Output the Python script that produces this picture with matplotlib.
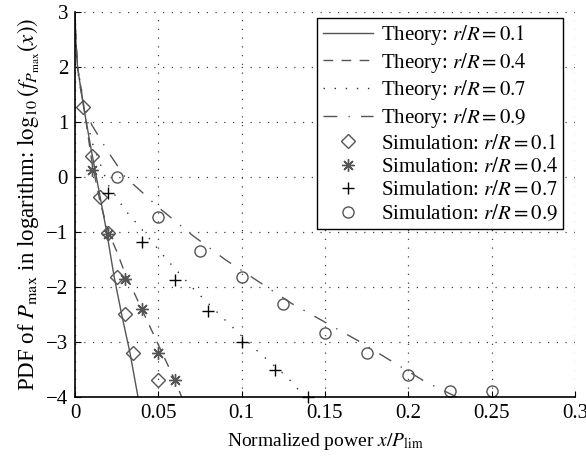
import numpy as np
import matplotlib.pyplot as plt

plt.rcParams["font.family"] = ["Liberation Serif", "DejaVu Serif"]
plt.rcParams["mathtext.fontset"] = "stix"

# theory curves
th_x_01 = [0, 0.0005, 0.0015, 0.005, 0.01, 0.015, 0.019, 0.0234, 0.028, 0.033, 0.0378]
th_y_01 = [3.0, 2.5, 2.0, 1.3, 0.45, -0.35, -1.0, -1.8, -2.5, -3.2, -4.0]

th_x_04 = [0, 0.0005, 0.0015, 0.005, 0.01, 0.015, 0.02, 0.025, 0.03, 0.04, 0.05, 0.06, 0.064]
th_y_04 = [3.0, 2.5, 2.0, 1.35, 0.3, -0.45, -1.0, -1.35, -1.75, -2.4, -3.05, -3.7, -4.0]

th_x_07 = [0, 0.0005, 0.0015, 0.005, 0.01, 0.02, 0.03, 0.04, 0.055, 0.07, 0.09, 0.11, 0.127, 0.138]
th_y_07 = [3.0, 2.5, 2.0, 1.4, 0.65, -0.15, -0.6, -0.95, -1.5, -2.0, -2.6, -3.18, -3.63, -4.0]

th_x_09 = [0, 0.0005, 0.002, 0.005, 0.01, 0.02, 0.03, 0.04, 0.05, 0.07, 0.09, 0.11, 0.13, 0.15, 0.17, 0.19, 0.21, 0.229]
th_y_09 = [3.0, 2.5, 1.8, 1.35, 0.95, 0.45, 0.0, -0.27, -0.55, -1.05, -1.5, -1.9, -2.3, -2.64, -2.98, -3.35, -3.72, -4.0]

# simulation points
sim_x_01 = [0.005, 0.01, 0.015, 0.02, 0.025, 0.03, 0.035, 0.05]
sim_y_01 = [1.27, 0.38, -0.37, -1.02, -1.82, -2.5, -3.2, -3.69]

sim_x_04 = [0.01, 0.02, 0.03, 0.04, 0.05, 0.06]
sim_y_04 = [0.13, -1.03, -1.86, -2.41, -3.2, -3.69]

sim_x_07 = [0.02, 0.04, 0.06, 0.08, 0.1, 0.12, 0.14]
sim_y_07 = [-0.29, -1.18, -1.87, -2.43, -3.01, -3.51, -4.0]

sim_x_09 = [0.025, 0.05, 0.075, 0.1, 0.125, 0.15, 0.175, 0.2, 0.225, 0.25]
sim_y_09 = [0.0, -0.72, -1.34, -1.82, -2.31, -2.83, -3.2, -3.6, -3.9, -3.9]

gray = "#555555"

fig = plt.figure(figsize=(5.86, 4.61), dpi=100)
ax = fig.add_axes([0.128, 0.139, 0.853, 0.835])

ax.plot(th_x_01, th_y_01, color=gray, lw=1, ls="-", label="Theory: $r/R = 0.1$")
ax.plot(th_x_04, th_y_04, color=gray, lw=1, ls=(0, (7, 6)), label="Theory: $r/R = 0.4$")
ax.plot(th_x_07, th_y_07, color="#333333", lw=1, ls=(0, (1, 7)), label="Theory: $r/R = 0.7$")
ax.plot(th_x_09, th_y_09, color=gray, lw=1, ls=(0, (10, 8, 1, 8)), label="Theory: $r/R = 0.9$")

ax.plot(sim_x_01, sim_y_01, ls="none", marker="D", ms=7, mfc="none", mec=gray, mew=1,
        label="Simulation: $r/R = 0.1$", clip_on=False)
ax.plot(sim_x_04, sim_y_04, ls="none", marker=(8, 2, 0), ms=9, mec=gray, mew=1,
        label="Simulation: $r/R = 0.4$", clip_on=False)
ax.plot(sim_x_07, sim_y_07, ls="none", marker="+", ms=9, mec="black", mew=1,
        label="Simulation: $r/R = 0.7$", clip_on=False)
ax.plot(sim_x_09, sim_y_09, ls="none", marker="o", ms=8, mfc="none", mec=gray, mew=1,
        label="Simulation: $r/R = 0.9$", clip_on=False)

ax.set_xlim(0, 0.3)
ax.set_ylim(-4, 3)
ax.set_xticks([0, 0.05, 0.1, 0.15, 0.2, 0.25, 0.3])
ax.set_xticklabels(["0", "0.05", "0.1", "0.15", "0.2", "0.25", "0.3"])
ax.set_yticks(range(-4, 4))
ax.set_yticklabels(["\u22124", "\u22123", "\u22122", "\u22121", "0", "1", "2", "3"])
ax.tick_params(direction="in", length=4, labelsize=15, top=False, right=False, pad=5)
ax.grid(True, ls=(0, (1, 6)), color="#444444", lw=0.9)
for s in ax.spines.values():
    s.set_linewidth(1.2)
ax.spines["top"].set_visible(False)
ax.spines["right"].set_visible(False)

ax.set_xlabel("Normalized power $x/P_{\\mathrm{lim}}$", fontsize=14, labelpad=6)
ax.set_ylabel("PDF of $P_{\\max}$ in logarithm: $\\log_{10}(f_{P_{\\max}}(x))$", fontsize=16.5,
              labelpad=3)

leg = ax.legend(loc="upper right", bbox_to_anchor=(0.977, 0.985), fontsize=15, frameon=True,
                fancybox=False, edgecolor="black", framealpha=1, handlelength=2.4,
                labelspacing=0.18, borderpad=0.25, handletextpad=0.4, borderaxespad=0)
leg.get_frame().set_linewidth(1)

fig.savefig("out.png", dpi=100)
